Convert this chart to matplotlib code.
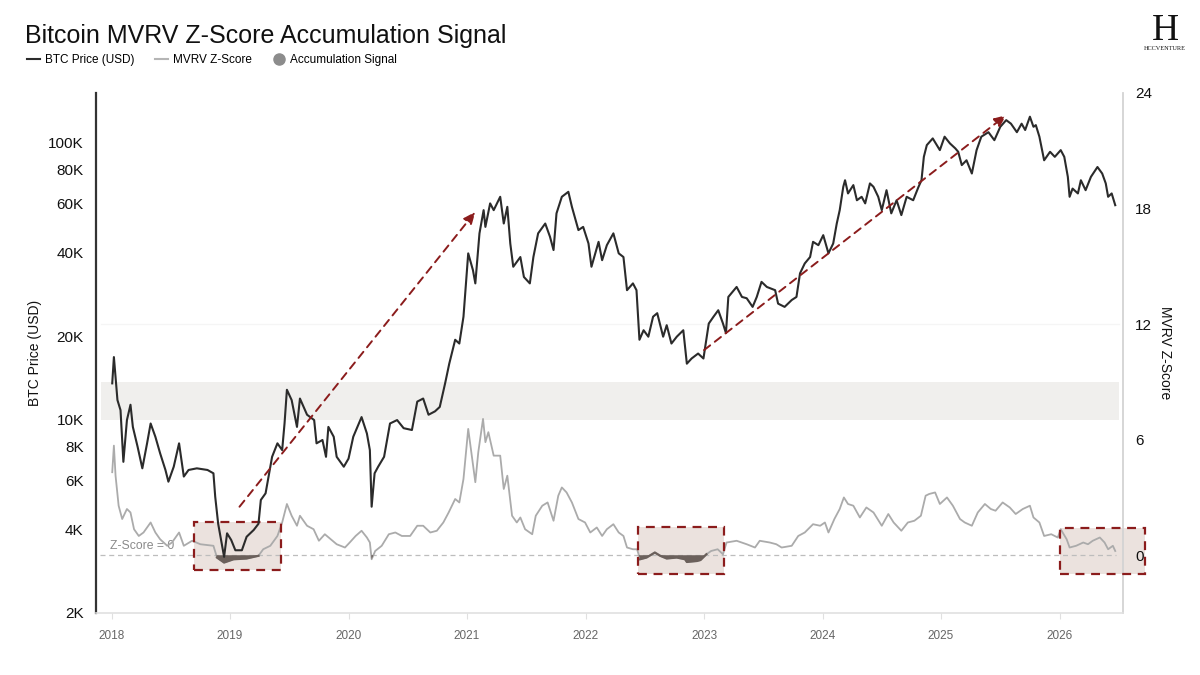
import numpy as np
import matplotlib
matplotlib.use("Agg")
import matplotlib.pyplot as plt
from matplotlib.lines import Line2D
from matplotlib.patches import Rectangle
from matplotlib.ticker import NullLocator

plt.rcParams['font.family'] = ['Liberation Sans', 'DejaVu Sans']

# ---------------- data ----------------
price_dates = [
    2018.006, 2018.02, 2018.05, 2018.076, 2018.10, 2018.13, 2018.16, 2018.18, 2018.22, 2018.26,
    2018.30, 2018.33, 2018.37, 2018.41, 2018.455, 2018.48, 2018.525, 2018.57, 2018.61, 2018.65,
    2018.72, 2018.81, 2018.86, 2018.875, 2018.90, 2018.92, 2018.95, 2018.975, 2019.01, 2019.045,
    2019.10, 2019.14, 2019.20, 2019.24, 2019.26, 2019.30, 2019.355, 2019.40, 2019.44, 2019.46,
    2019.48, 2019.52, 2019.565, 2019.59, 2019.65, 2019.71, 2019.73, 2019.78, 2019.81, 2019.83,
    2019.875, 2019.90, 2019.96, 2020.00, 2020.04, 2020.11, 2020.155, 2020.18, 2020.195, 2020.22,
    2020.25, 2020.30, 2020.35, 2020.41, 2020.465, 2020.535, 2020.58, 2020.63, 2020.675, 2020.73,
    2020.77, 2020.815, 2020.85, 2020.90, 2020.935, 2020.97, 2021.01, 2021.05, 2021.07, 2021.105,
    2021.14, 2021.155, 2021.195, 2021.225, 2021.28, 2021.31, 2021.34, 2021.365, 2021.39, 2021.45,
    2021.48, 2021.53, 2021.56, 2021.60, 2021.66, 2021.70, 2021.73, 2021.755, 2021.80, 2021.855,
    2021.885, 2021.94, 2021.98, 2022.025, 2022.05, 2022.11, 2022.14, 2022.18, 2022.235, 2022.28,
    2022.32, 2022.35, 2022.40, 2022.43, 2022.455, 2022.49, 2022.53, 2022.57, 2022.605, 2022.655,
    2022.685, 2022.725, 2022.77, 2022.825, 2022.855, 2022.895, 2022.95, 2022.995, 2023.04, 2023.08,
    2023.12, 2023.16, 2023.185, 2023.205, 2023.275, 2023.32, 2023.36, 2023.41, 2023.445, 2023.485,
    2023.53, 2023.60, 2023.625, 2023.68, 2023.74, 2023.78, 2023.81, 2023.85, 2023.895, 2023.92,
    2023.965, 2024.006, 2024.05, 2024.09, 2024.12, 2024.145, 2024.175, 2024.19, 2024.215, 2024.26,
    2024.29, 2024.33, 2024.36, 2024.40, 2024.43, 2024.47, 2024.50, 2024.54, 2024.58, 2024.625,
    2024.665, 2024.71, 2024.765, 2024.81, 2024.835, 2024.855, 2024.88, 2024.93, 2024.99, 2025.03,
    2025.075, 2025.12, 2025.145, 2025.175, 2025.215, 2025.26, 2025.30, 2025.34, 2025.40, 2025.45,
    2025.50, 2025.55, 2025.59, 2025.64, 2025.68, 2025.71, 2025.75, 2025.78, 2025.80, 2025.83,
    2025.87, 2025.92, 2025.96, 2026.01, 2026.04, 2026.07, 2026.085, 2026.11, 2026.155, 2026.18,
    2026.22, 2026.265, 2026.32, 2026.36, 2026.39, 2026.41, 2026.44, 2026.47,
]
btc_price_usd = [
    13500, 16800, 11750, 10800, 7030, 9950, 11300, 9400, 7970, 6660,
    8200, 9670, 8660, 7550, 6570, 5960, 6750, 8200, 6220, 6570,
    6660, 6570, 6390, 5260, 4200, 3770, 3190, 3880, 3670, 3370,
    3370, 3770, 3990, 4200, 5120, 5410, 7330, 8200, 7750, 9670,
    12800, 11750, 9400, 11900, 10400, 9950, 8200, 8430, 7330, 9400,
    8660, 7330, 6750, 7220, 8660, 10200, 8900, 7750, 4840, 6390,
    6750, 7330, 9670, 9950, 9300, 9160, 11600, 11900, 10400, 10700,
    11100, 13500, 15900, 19400, 18800, 23500, 39800, 34600, 31000, 47000,
    57000, 49600, 60300, 57000, 63700, 51000, 58600, 43200, 35600, 38600,
    32700, 31000, 38600, 47000, 51000, 45700, 40900, 55500, 63700, 66400,
    58600, 48300, 49600, 43200, 35600, 43800, 37600, 42600, 47000, 39800,
    38600, 29300, 31000, 29300, 19400, 21000, 19900, 23500, 24200, 19900,
    21900, 18800, 19900, 21000, 15900, 16600, 17300, 16600, 22200, 23500,
    24800, 22200, 20500, 27700, 30100, 27700, 27400, 25500, 27700, 31400,
    30100, 29300, 26200, 25500, 27000, 27700, 33700, 36600, 38600, 43800,
    42600, 46300, 39800, 43200, 51000, 57000, 69200, 73100, 65500, 70200,
    61900, 63700, 60300, 71200, 69200, 63700, 57000, 67300, 55500, 61900,
    54700, 63700, 61900, 69200, 73100, 88800, 97900, 103500, 93900, 105000,
    99300, 95300, 92600, 82900, 86300, 77300, 93900, 105000, 109000, 102000,
    114000, 120500, 117000, 109000, 117000, 111000, 124000, 114000, 115600, 105000,
    86300, 92600, 88800, 93900, 88800, 75200, 63700, 68200, 65500, 73100,
    67300, 75200, 81600, 77300, 71200, 63700, 65500, 59400,
]

z_dates = [
    2018.006, 2018.02, 2018.034, 2018.06, 2018.09, 2018.13, 2018.16, 2018.19, 2018.23, 2018.27,
    2018.33, 2018.37, 2018.41, 2018.47, 2018.51, 2018.57, 2018.61, 2018.68, 2018.75, 2018.86,
    2018.89, 2018.95, 2019.03, 2019.14, 2019.24, 2019.28, 2019.34, 2019.40, 2019.44, 2019.48,
    2019.52, 2019.565, 2019.59, 2019.65, 2019.705, 2019.75, 2019.80, 2019.85, 2019.90, 2019.97,
    2020.01, 2020.06, 2020.11, 2020.155, 2020.18, 2020.195, 2020.225, 2020.28, 2020.34, 2020.395,
    2020.45, 2020.52, 2020.58, 2020.63, 2020.69, 2020.745, 2020.80, 2020.845, 2020.90, 2020.935,
    2020.97, 2021.01, 2021.04, 2021.07, 2021.095, 2021.135, 2021.155, 2021.18, 2021.225, 2021.28,
    2021.31, 2021.34, 2021.38, 2021.42, 2021.45, 2021.49, 2021.55, 2021.58, 2021.635, 2021.68,
    2021.73, 2021.77, 2021.80, 2021.84, 2021.885, 2021.94, 2021.996, 2022.04, 2022.095, 2022.14,
    2022.18, 2022.235, 2022.28, 2022.32, 2022.35, 2022.40, 2022.435, 2022.46, 2022.515, 2022.585,
    2022.63, 2022.685, 2022.77, 2022.84, 2022.855, 2022.94, 2022.97, 2023.02, 2023.06, 2023.115,
    2023.16, 2023.19, 2023.275, 2023.36, 2023.43, 2023.47, 2023.555, 2023.61, 2023.655, 2023.74,
    2023.795, 2023.85, 2023.92, 2023.98, 2024.02, 2024.05, 2024.10, 2024.145, 2024.18, 2024.215,
    2024.26, 2024.315, 2024.37, 2024.43, 2024.50, 2024.555, 2024.60, 2024.665, 2024.72, 2024.775,
    2024.83, 2024.87, 2024.90, 2024.95, 2024.99, 2025.05, 2025.10, 2025.16, 2025.20, 2025.26,
    2025.31, 2025.37, 2025.42, 2025.46, 2025.52, 2025.58, 2025.63, 2025.69, 2025.75, 2025.78,
    2025.83, 2025.87, 2025.93, 2025.985, 2026.01, 2026.06, 2026.085, 2026.14, 2026.20, 2026.24,
    2026.28, 2026.34, 2026.38, 2026.41, 2026.45, 2026.47,
]
mvrv_z = [
    4.31, 5.69, 4.13, 2.57, 1.88, 2.40, 2.22, 1.35, 1.00, 1.18,
    1.70, 1.18, 0.83, 0.49, 0.66, 1.18, 0.49, 0.75, 0.57, 0.49,
    -0.12, -0.38, -0.21, -0.17, -0.03, 0.31, 0.49, 1.00, 1.70, 2.66,
    2.05, 1.53, 2.05, 1.53, 1.35, 0.75, 1.09, 0.83, 0.57, 0.40,
    0.66, 1.00, 1.27, 0.92, 0.66, -0.21, 0.22, 0.49, 1.09, 1.18,
    1.00, 1.00, 1.53, 1.53, 1.18, 1.27, 1.70, 2.22, 2.92, 2.74,
    3.96, 6.56, 5.17, 3.79, 5.35, 7.08, 5.87, 6.39, 5.17, 5.17,
    3.44, 4.13, 2.05, 1.70, 1.96, 1.35, 1.09, 2.05, 2.57, 2.74,
    1.79, 3.09, 3.52, 3.26, 2.74, 1.88, 1.70, 1.18, 1.44, 1.00,
    1.35, 1.61, 1.18, 1.00, 0.40, 0.31, 0.31, -0.21, -0.12, 0.14,
    -0.03, -0.17, -0.12, -0.21, -0.35, -0.30, -0.25, 0.05, 0.22, 0.31,
    0.05, 0.66, 0.75, 0.57, 0.40, 0.75, 0.66, 0.57, 0.40, 0.49,
    1.00, 1.18, 1.61, 1.53, 1.70, 1.18, 1.88, 2.40, 3.00, 2.66,
    2.57, 1.96, 2.48, 2.22, 1.53, 2.14, 1.70, 1.27, 1.70, 1.79,
    2.05, 3.09, 3.18, 3.26, 2.66, 3.00, 2.57, 1.88, 1.70, 1.53,
    2.22, 2.66, 2.40, 2.31, 2.74, 2.48, 2.14, 2.40, 2.57, 1.96,
    1.70, 1.00, 1.09, 0.92, 1.35, 0.83, 0.40, 0.49, 0.66, 0.57,
    0.75, 0.92, 0.66, 0.31, 0.49, 0.22,
]

year_ticks = [2018, 2019, 2020, 2021, 2022, 2023, 2024, 2025, 2026]
price_ticks = [2000, 4000, 6000, 8000, 10000, 20000, 40000, 60000, 80000, 100000]
price_tick_labels = ['2K', '4K', '6K', '8K', '10K', '20K', '40K', '60K', '80K', '100K']
z_ticks = [0, 6, 12, 18, 24]

# accumulation boxes: (start, end, z low, z high)
signal_boxes = [
    (2018.70, 2019.43, -0.77, 1.70),
    (2022.44, 2023.17, -0.99, 1.44),
    (2026.00, 2026.72, -0.99, 1.39),
]
# trend arrows: ((start date, start price), (end date, end price))
trend_arrows = [
    ((2019.08, 4840), (2021.07, 56200)),
    ((2023.00, 17800), (2025.55, 125600)),
]
signal_threshold = 0.2
zone_band = (7, 9)

# ---------------- styling ----------------
PRICE_C = '#2b2b2b'
Z_C = '#ababab'
SIG_C = '#6b605b'
RED = '#8b1c1c'

fig = plt.figure(figsize=(12, 6.75), dpi=100, facecolor='white')
W, H = 1200, 675
ax = fig.add_axes([96 / W, (H - 613) / H, 1026.7 / W, 520 / H])
ax2 = ax.twinx()
ax.set_zorder(2)
ax2.set_zorder(1)
ax.patch.set_visible(False)

xmin, xmax = 2017.869, 2026.533
ax.set_xlim(xmin, xmax)

# --- z-score axis (right, drawn below) ---
ax2.set_ylim(-3, 24)
ax2.axhspan(zone_band[0], zone_band[1], xmin=0.005, xmax=0.996, color='#f0efed', lw=0, zorder=0)
ax2.axhline(12, xmin=0.005, xmax=0.996, color='#f5f5f5', lw=1, zorder=0)

for (x0, x1, z0, z1) in signal_boxes:
    ax2.add_patch(Rectangle((x0, z0), x1 - x0, z1 - z0, facecolor='#ebe2de', edgecolor='none',
                            zorder=1, clip_on=False))
    ax2.add_patch(Rectangle((x0, z0), x1 - x0, z1 - z0, facecolor='none', edgecolor=RED,
                            lw=1.6, linestyle=(0, (4, 3)), zorder=5, clip_on=False))

ax2.hlines(0, 2017.90, 2026.48, colors='#bdbdbd', linestyles=(0, (4, 3)), lw=0.9, zorder=2)
ax2.text(2017.985, 0.15, 'Z-Score = 0', fontsize=8.8, color='#8a8a8a', ha='left', va='bottom', zorder=3)

zd = np.array(z_dates)
zv = np.array(mvrv_z)
ax2.plot(zd, zv, color=Z_C, lw=1.3, zorder=3)
sig = np.ma.masked_where(zv > signal_threshold, zv)
ax2.plot(zd, sig, color=SIG_C, lw=1.6, zorder=4)
ax2.fill_between(zd, zv, 0, where=zv < 0, interpolate=True, color=SIG_C, lw=0, zorder=4)

ax2.set_yticks(z_ticks)
ax2.tick_params(axis='y', length=0, pad=9, labelsize=11, labelcolor='#111111')
for s in ['top', 'left', 'bottom']:
    ax2.spines[s].set_visible(False)
ax2.spines['right'].set_color('#d3d3d3')
ax2.spines['right'].set_linewidth(1.3)
ax2.set_ylabel('MVRV Z-Score', fontsize=10, rotation=270, va='bottom', color='#111111')
ax2.yaxis.set_label_coords(1.034, 0.5)

# --- price axis (left, drawn on top) ---
ax.set_yscale('log')
ax.set_ylim(2000, 151000)
ax.plot(price_dates, btc_price_usd, color=PRICE_C, lw=1.5, zorder=5)

for (s, e) in trend_arrows:
    ax.annotate('', xy=e, xytext=s,
                arrowprops=dict(arrowstyle='-|>,head_length=0.7,head_width=0.3', color=RED,
                                lw=1.4, linestyle=(0, (4, 3)), shrinkA=0, shrinkB=0),
                zorder=6)

ax.set_yticks(price_ticks)
ax.set_yticklabels(price_tick_labels)
ax.yaxis.set_minor_locator(NullLocator())
ax.set_xticks(year_ticks)
ax.set_xticklabels([str(y) for y in year_ticks])
ax.tick_params(axis='y', length=0, pad=9, labelsize=11, labelcolor='#111111')
ax.tick_params(axis='x', length=4, color='#e0e0e0', pad=8, labelsize=8.5, labelcolor='#666666')
for s in ['top', 'right']:
    ax.spines[s].set_visible(False)
ax.spines['left'].set_color('#333333')
ax.spines['left'].set_linewidth(1.6)
ax.spines['bottom'].set_color('#e0e0e0')
ax.spines['bottom'].set_linewidth(1.2)
ax.set_ylabel('BTC Price (USD)', fontsize=10, color='#111111')
ax.yaxis.set_label_coords(-0.0526, 0.5)

# --- title, legend, logo ---
fig.text(25 / W, 1 - 43 / H, 'Bitcoin MVRV Z-Score Accumulation Signal', fontsize=18,
         color='#111111', ha='left', va='baseline')

handles = [
    Line2D([], [], color=PRICE_C, lw=1.5),
    Line2D([], [], color='#b5b5b5', lw=1.5),
    Line2D([], [], marker='o', ls='', color='#8c8c8c', markersize=8),
]
labels = ['BTC Price (USD)', 'MVRV Z-Score', 'Accumulation Signal']
fig.legend(handles, labels, loc='center left', bbox_to_anchor=(27 / W, 1 - 60 / H), ncol=3,
           frameon=False, fontsize=8.5, handlelength=1.1, handletextpad=0.45,
           columnspacing=1.7, borderaxespad=0, borderpad=0)

fig.text(1165 / W, 1 - 40 / H, 'H', family=['Liberation Serif', 'DejaVu Serif'], fontsize=27,
         color='#111111', ha='center', va='baseline')
fig.text(1165 / W, 1 - 49 / H, 'HCCVENTURE', family=['Liberation Serif', 'DejaVu Serif'],
         fontsize=4.5, color='#111111', ha='center', va='center')

fig.savefig('out.png', dpi=100, facecolor='white')
